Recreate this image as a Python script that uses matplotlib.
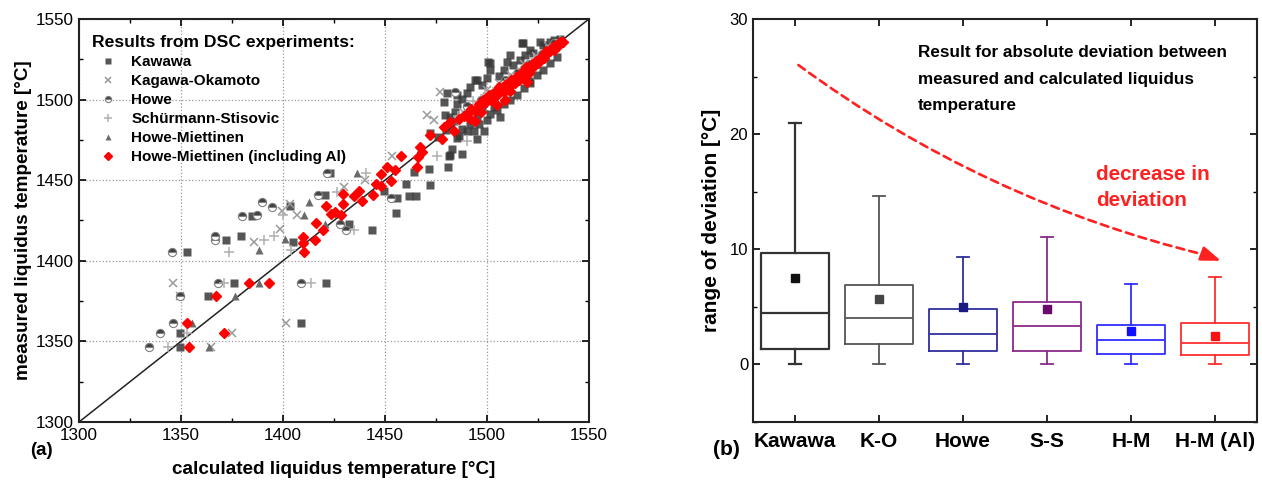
import matplotlib.pyplot as plt
from matplotlib.patches import FancyArrowPatch
from matplotlib.ticker import MultipleLocator

plt.rcParams['font.family'] = ['Liberation Sans', 'DejaVu Sans']

# (a) measured vs calculated liquidus temperature
kawawa_x = [1349.7, 1349.7, 1352.9, 1363.1, 1372.2, 1375.8, 1379.4, 1384.8, 1403.6, 1404.9,
            1408.8, 1420.9, 1420.8, 1432.2, 1423.2, 1443.8, 1449.5, 1455.2, 1456.0, 1460.1,
            1461.7, 1465.0, 1464.2, 1471.5, 1481.3, 1482.9, 1487.8, 1478.8, 1479.6, 1480.6,
            1472.0, 1476.0, 1480.0, 1485.3, 1481.9, 1480.9, 1472.0,
            1517.1, 1526.1, 1495.1, 1501.6, 1511.4, 1505.7, 1516.3, 1522.8, 1529.3, 1485.3,
            1487.8, 1490.2, 1491.9, 1497.6, 1500.0, 1501.6, 1508.1, 1509.8, 1513.0, 1518.7,
            1521.2, 1527.7, 1531.0, 1497.6, 1495.1, 1491.9, 1493.5, 1498.4, 1496.0, 1504.9,
            1508.1, 1511.4, 1514.7, 1518.0, 1521.2, 1524.4, 1527.7, 1531.0, 1534.2, 1500.0,
            1501.6, 1503.3, 1506.5, 1487.8, 1486.2, 1482.1, 1484.5, 1494.3, 1520.4, 1495.1,
            1490.2, 1485.3, 1500.5, 1517.6, 1533.0, 1536.0]
kawawa_y = [1355.0, 1346.7, 1405.6, 1378.1, 1412.8, 1386.0, 1415.3, 1427.7, 1434.1, 1411.8,
            1361.2, 1386.4, 1441.1, 1423.1, 1454.5, 1419.4, 1443.3, 1429.8, 1439.2, 1447.5,
            1440.2, 1440.2, 1454.8, 1456.9, 1465.2, 1469.4, 1466.3, 1498.5, 1490.2, 1503.8,
            1479.0, 1477.0, 1481.0, 1476.2, 1465.6, 1458.2, 1447.0,
            1535.0, 1536.0, 1512.1, 1522.5, 1527.7, 1514.6, 1524.6, 1528.8, 1532.5, 1497.5,
            1500.6, 1503.8, 1507.9, 1509.0, 1513.1, 1518.3, 1518.3, 1523.5, 1521.5, 1527.7,
            1530.8, 1534.0, 1536.0, 1494.4, 1489.2, 1485.0, 1480.8, 1480.8, 1485.0, 1493.3,
            1497.5, 1499.6, 1502.7, 1506.9, 1510.0, 1515.2, 1518.3, 1522.5, 1526.7, 1487.1,
            1491.3, 1495.4, 1489.2, 1481.9, 1477.7, 1489.2, 1492.3, 1512.1, 1511.7, 1475.6,
            1480.8, 1502.7, 1523.3, 1535.1, 1537.0, 1537.5]

kagawa_x = [1346.1, 1349.7, 1364.9, 1375.0, 1385.6, 1398.4, 1403.6, 1401.6, 1406.9, 1399.5,
            1453.6, 1470.7, 1473.9, 1477.2, 1430.0, 1440.0, 1488.0, 1495.0, 1500.0, 1506.0,
            1512.0, 1518.0, 1524.0, 1530.0]
kagawa_y = [1386.4, 1378.1, 1346.7, 1355.0, 1411.8, 1420.0, 1435.5, 1361.2, 1428.3, 1431.0,
            1465.2, 1490.2, 1487.1, 1504.8, 1446.0, 1450.0, 1492.0, 1497.0, 1506.0, 1510.0,
            1515.0, 1522.0, 1527.0, 1533.0]

howe_x = [1334.2, 1339.9, 1346.1, 1349.3, 1345.6, 1368.0, 1379.9, 1387.3, 1366.5, 1366.5,
          1389.8, 1394.6, 1408.8, 1417.0, 1421.6, 1427.8, 1431.0, 1452.8, 1484.5, 1490.0,
          1497.0, 1503.0, 1509.0, 1515.0, 1521.0, 1527.0, 1533.0]
howe_y = [1346.7, 1355.0, 1361.2, 1378.1, 1405.6, 1386.4, 1427.7, 1428.3, 1415.3, 1412.8,
          1436.2, 1433.5, 1386.4, 1441.1, 1454.5, 1423.1, 1419.4, 1439.2, 1504.8, 1496.0,
          1500.0, 1504.0, 1512.0, 1517.0, 1522.0, 1528.0, 1535.0]

ss_x = [1343.5, 1352.9, 1370.9, 1373.4, 1390.5, 1395.4, 1413.7, 1404.1, 1400.0, 1426.5,
        1434.9, 1440.6, 1475.6, 1490.2, 1486.0, 1493.0, 1499.0, 1505.0, 1511.0, 1517.0,
        1523.0, 1529.0, 1536.0]
ss_y = [1346.7, 1355.0, 1386.4, 1405.6, 1412.8, 1415.3, 1386.4, 1406.6, 1428.3, 1442.8,
        1418.8, 1454.2, 1465.2, 1474.6, 1490.0, 1499.0, 1503.0, 1507.0, 1513.0, 1519.0,
        1526.0, 1531.0, 1537.0]

hm_x = [1355.4, 1363.6, 1376.6, 1388.1, 1388.1, 1401.1, 1412.6, 1410.1, 1420.8, 1436.5,
        1484.0, 1491.0, 1497.0, 1503.0, 1510.0, 1516.0, 1522.0, 1528.0, 1534.0]
hm_y = [1361.2, 1346.7, 1378.1, 1406.6, 1386.4, 1413.8, 1436.6, 1428.3, 1423.1, 1454.2,
        1487.0, 1495.0, 1496.0, 1502.0, 1511.0, 1515.0, 1521.0, 1529.0, 1535.0]

hmal_x = [1352.9, 1354.1, 1367.3, 1371.2, 1383.2, 1393.3, 1409.8, 1409.8, 1410.1, 1415.8,
          1416.3, 1419.6, 1421.3, 1423.5, 1425.7, 1428.4, 1429.2, 1429.5, 1434.9, 1437.3,
          1438.9, 1444.3, 1445.4, 1448.2, 1447.9, 1451.1, 1452.8, 1454.9, 1457.7, 1465.5,
          1466.1, 1467.1, 1468.2, 1472.3, 1478.0, 1478.8, 1482.1, 1484.0, 1486.2, 1488.6,
          1490.0, 1491.9, 1492.0, 1494.0, 1494.0, 1495.1, 1496.0, 1497.6, 1497.0, 1498.0,
          1499.0, 1500.0, 1501.0, 1502.0, 1503.3, 1504.9, 1504.0, 1505.0, 1506.0, 1507.0,
          1508.1, 1509.0, 1509.0, 1510.0, 1511.4, 1512.0, 1513.0, 1513.8, 1514.0, 1515.5,
          1516.0, 1517.0, 1518.0, 1519.5, 1519.0, 1520.4, 1521.0, 1522.0, 1522.8, 1524.0,
          1525.2, 1526.0, 1527.0, 1528.0, 1529.0, 1530.1, 1531.0, 1532.0, 1532.6, 1533.0,
          1534.0, 1535.0, 1535.8, 1536.0, 1537.5]
hmal_y = [1361.2, 1346.3, 1378.1, 1355.0, 1386.4, 1386.4, 1414.5, 1411.2, 1405.6, 1412.8,
          1423.6, 1419.4, 1433.9, 1428.9, 1430.4, 1428.3, 1441.7, 1435.4, 1440.2, 1443.3,
          1437.1, 1440.8, 1447.9, 1446.5, 1453.8, 1457.9, 1449.2, 1456.3, 1465.2, 1457.9,
          1464.6, 1470.4, 1467.3, 1478.3, 1475.6, 1483.3, 1486.0, 1480.8, 1488.1, 1489.6,
          1491.0, 1488.1, 1494.0, 1493.0, 1487.0, 1494.4, 1497.0, 1497.9, 1492.0, 1500.0,
          1498.0, 1499.6, 1503.0, 1500.0, 1501.3, 1496.5, 1505.0, 1503.0, 1508.0, 1506.0,
          1504.8, 1509.0, 1500.0, 1507.0, 1505.4, 1512.0, 1510.0, 1510.0, 1514.0, 1512.1,
          1514.0, 1517.0, 1515.0, 1511.0, 1520.0, 1516.2, 1519.0, 1522.0, 1520.4, 1524.0,
          1522.5, 1525.0, 1527.0, 1526.0, 1530.0, 1529.8, 1530.0, 1532.0, 1532.9, 1531.0,
          1534.0, 1533.0, 1535.0, 1536.0, 1536.0]

# (b) box plot statistics of the absolute deviation
groups = ['Kawawa', 'K-O', 'Howe', 'S-S', 'H-M', 'H-M (Al)']
whis_lo = [0.0, 0.0, 0.0, 0.0, 0.0, 0.0]
q1 = [1.35, 1.8, 1.15, 1.2, 0.9, 0.85]
median = [4.5, 4.0, 2.6, 3.3, 2.1, 1.85]
q3 = [9.7, 6.9, 4.8, 5.4, 3.45, 3.6]
whis_hi = [21.0, 14.6, 9.3, 11.1, 7.0, 7.6]
mean = [7.5, 5.7, 5.0, 4.8, 2.9, 2.5]
box_colors = ['#333333', '#555555', '#2e2e9e', '#8a2a8a', '#2f2fff', '#ff2f2f']
mean_colors = ['#111111', '#444444', '#1a1a80', '#6a0a6a', '#1010ff', '#ff1010']


def style_ticks(ax, labelsize=12.3):
    ax.tick_params(which='both', direction='in', top=True, right=True, labelsize=labelsize)
    ax.tick_params(which='major', length=5, width=1.2)
    ax.tick_params(which='minor', length=3, width=1.0)
    for s in ax.spines.values():
        s.set_linewidth(1.5)
        s.set_color('#222222')


def plot_scatter(ax):
    ax.plot([1300, 1550], [1300, 1550], color='#222222', lw=1.1, zorder=2)
    ms = 5.6
    ax.plot(kawawa_x, kawawa_y, ls='none', marker='s', ms=ms, color='#383838', alpha=0.85,
            mec='none', label='Kawawa', zorder=3)
    ax.plot(kagawa_x, kagawa_y, ls='none', marker='x', ms=ms + 0.5, color='#9a9a9a', mew=1.1,
            label='Kagawa-Okamoto', zorder=3)
    ax.plot(howe_x, howe_y, ls='none', marker='o', ms=ms + 0.3, fillstyle='top', color='#404040',
            markerfacecoloralt='white', mec='#808080', mew=0.8, label='Howe', zorder=3)
    ax.plot(ss_x, ss_y, ls='none', marker='+', ms=ms + 1.2, color='#b0b0b0', mew=1.1,
            label='Schürmann-Stisovic', zorder=3)
    ax.plot(hm_x, hm_y, ls='none', marker='^', ms=ms + 0.3, color='#6a6a6a', mec='none',
            label='Howe-Miettinen', zorder=3)
    ax.plot(hmal_x, hmal_y, ls='none', marker='D', ms=ms, color='#ff0000', mec='#ff0000',
            label='Howe-Miettinen (including Al)', zorder=4)

    ax.set_xlim(1300, 1550)
    ax.set_ylim(1300, 1550)
    ax.xaxis.set_major_locator(MultipleLocator(50))
    ax.xaxis.set_minor_locator(MultipleLocator(25))
    ax.yaxis.set_major_locator(MultipleLocator(50))
    ax.yaxis.set_minor_locator(MultipleLocator(25))
    ax.grid(True, which='major', ls=':', color='#999999', lw=0.9, zorder=0)
    style_ticks(ax)
    ax.tick_params(axis='x', pad=4)

    ax.set_xlabel('calculated liquidus temperature [°C]', fontsize=13.6, fontweight='bold',
                  labelpad=13)
    ax.set_ylabel('measured liquidus temperature [°C]', fontsize=13.6, fontweight='bold',
                  labelpad=3)
    ax.text(-0.096, -0.05, '(a)', transform=ax.transAxes, fontsize=13.5, fontweight='bold',
            va='top', ha='left')

    leg = ax.legend(loc='upper left', bbox_to_anchor=(0.002, 0.99), frameon=False,
                    title='Results from DSC experiments:',
                    prop={'weight': 'bold', 'size': 11},
                    title_fontproperties={'weight': 'bold', 'size': 12.6},
                    labelspacing=0.33, handletextpad=0.45, handlelength=2.1,
                    borderaxespad=0.4, markerscale=0.75)
    leg._legend_box.align = 'left'


def plot_boxes(ax):
    pos = list(range(1, len(groups) + 1))
    stats = []
    for i in range(len(groups)):
        stats.append({'whislo': whis_lo[i], 'q1': q1[i], 'med': median[i], 'q3': q3[i],
                      'whishi': whis_hi[i], 'mean': mean[i], 'fliers': [], 'label': groups[i]})
    art = ax.bxp(stats, positions=pos, widths=0.8, capwidths=0.14, showmeans=True,
                 showfliers=False)
    for i, c in enumerate(box_colors):
        lw = 1.6 if i == 0 else 1.3
        art['boxes'][i].set(color=c, lw=lw)
        art['medians'][i].set(color=c, lw=lw)
        for k in (2 * i, 2 * i + 1):
            art['whiskers'][k].set(color=c, lw=lw)
            art['caps'][k].set(color=c, lw=lw)
        art['means'][i].set(marker='s', markersize=6, markerfacecolor=mean_colors[i],
                            markeredgecolor=mean_colors[i])

    ax.set_xlim(0.5, 6.5)
    ax.set_ylim(-5, 30)
    ax.yaxis.set_major_locator(MultipleLocator(10))
    ax.yaxis.set_minor_locator(MultipleLocator(5))
    ax.set_xticks(pos)
    ax.set_xticklabels(groups, fontsize=15, fontweight='bold')
    style_ticks(ax, labelsize=12)
    ax.tick_params(axis='x', labelsize=15, pad=7)
    ax.tick_params(axis='x', which='minor', bottom=False, top=False)
    ax.set_ylabel('range of deviation [°C]', fontsize=15, fontweight='bold', labelpad=6)
    ax.text(-0.08, -0.045, '(b)', transform=ax.transAxes, fontsize=15, fontweight='bold',
            va='top', ha='left')

    ax.text(2.46, 27.7, 'Result for absolute deviation between\nmeasured and calculated liquidus\ntemperature',
            fontsize=12.3, fontweight='bold', va='top', ha='left', linespacing=1.93)
    ax.text(4.58, 17.35, 'decrease in\ndeviation', fontsize=14.9, fontweight='bold',
            color='#ff2020', va='top', ha='left', linespacing=1.47)

    curve = FancyArrowPatch((1.04, 26.0), (5.9, 9.48), arrowstyle='-',
                            connectionstyle='arc3,rad=0.1', color='#ff2020', lw=1.9,
                            linestyle=(0, (3, 2)), shrinkA=0, shrinkB=0)
    ax.add_patch(curve)
    ax.annotate('', xy=(6.07, 9.0), xytext=(5.88, 9.52),
                arrowprops=dict(arrowstyle='-|>,head_length=0.6,head_width=0.22',
                                color='#ff2020', lw=1.9, shrinkA=0, shrinkB=0,
                                mutation_scale=20))


def main():
    fig = plt.figure(figsize=(12.62, 4.83), dpi=100)
    ax1 = fig.add_axes([0.0626, 0.1263, 0.4041, 0.8344])
    ax2 = fig.add_axes([0.5967, 0.1263, 0.3994, 0.8344])
    plot_scatter(ax1)
    plot_boxes(ax2)
    fig.savefig('out.png', dpi=100)


if __name__ == '__main__':
    main()
